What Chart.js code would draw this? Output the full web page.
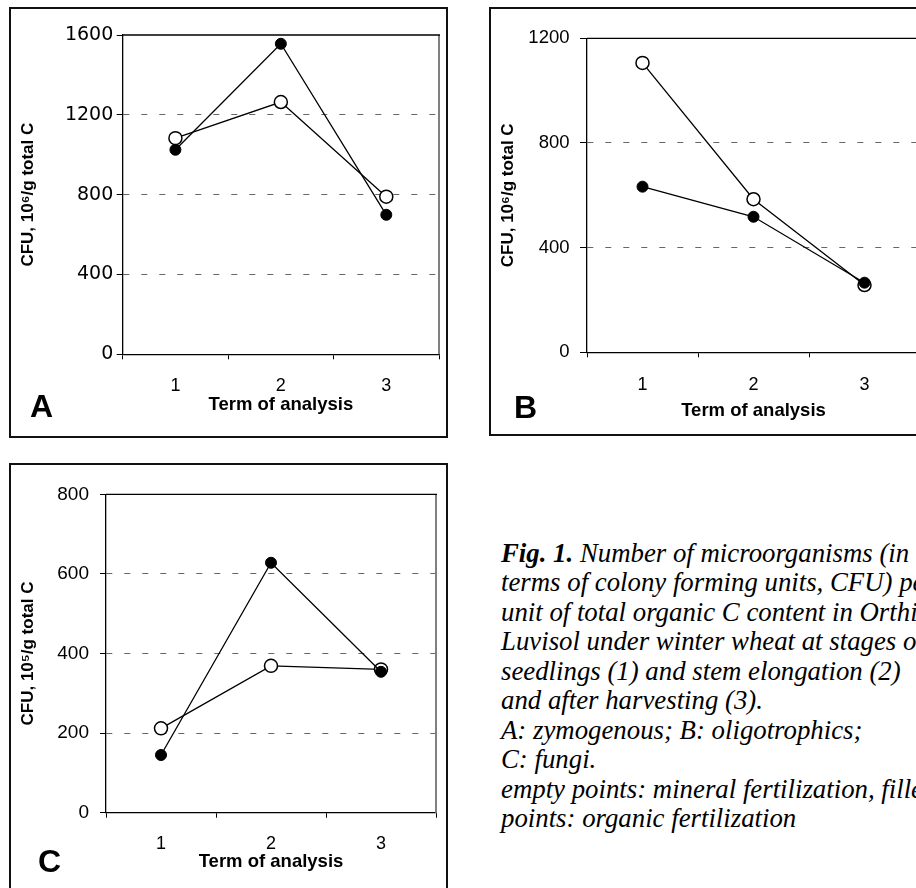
<!DOCTYPE html>
<html><head><meta charset="utf-8">
<script src="https://cdn.jsdelivr.net/npm/chart.js@4.4.1/dist/chart.umd.min.js"></script>
<style>
html,body{margin:0;padding:0;background:#fff;}
body{width:916px;height:888px;overflow:hidden;position:relative;}
.box{position:absolute;border:2px solid #111;box-sizing:border-box;}
.cv{position:absolute;}
.letter{position:absolute;font-family:"Liberation Sans",Arial,sans-serif;font-weight:bold;font-size:32px;line-height:32px;color:#000;}
.caption{position:absolute;left:501px;top:538.5px;font-family:"Liberation Serif","Times New Roman",serif;font-style:italic;font-size:26.8px;line-height:29.5px;white-space:nowrap;color:#000;}
</style></head><body>
<div class="box" style="left:9px;top:7px;width:439px;height:431px"></div>
<div class="box" style="left:489px;top:7px;width:460px;height:429px"></div>
<div class="box" style="left:9px;top:463px;width:439px;height:440px"></div>
<canvas id="cA" class="cv" style="left:10px;top:8px;width:437px;height:429px" width="437" height="429"></canvas>
<canvas id="cB" class="cv" style="left:490px;top:8px;width:440px;height:427px" width="440" height="427"></canvas>
<canvas id="cC" class="cv" style="left:10px;top:464px;width:437px;height:430px" width="437" height="430"></canvas>
<div class="letter" style="left:30px;top:390px">A</div>
<div class="letter" style="left:514px;top:391px">B</div>
<div class="letter" style="left:38px;top:845px">C</div>
<div class="caption"><b>Fig. 1.</b> Number of microorganisms (in<br>terms of colony forming units, CFU) per<br>unit of total organic C content in Orthic<br>Luvisol under winter wheat at stages of<br>seedlings (1) and stem elongation (2)<br>and after harvesting (3).<br>A: zymogenous; B: oligotrophics;<br>C: fungi.<br>empty points: mineral fertilization, filled<br>points: organic fertilization</div>
<script>
// ---- data ----
const termLabels = ['1', '2', '3'];
const mineralA = [1083, 1264, 790];
const organicA = [1025, 1556, 699];
const mineralB = [1106, 585, 257];
const organicB = [633, 518, 266];
const mineralC = [212, 369, 360];
const organicC = [145, 628, 354];
const yTicksA = [0, 400, 800, 1200, 1600];
const yTicksB = [0, 400, 800, 1200];
const yTicksC = [0, 200, 400, 600, 800];
const yTitleA = 'CFU, 10\u2076/g total C';
const yTitleB = 'CFU, 10\u2076/g total C';
const yTitleC = 'CFU, 10\u2075/g total C';
const xTitle = 'Term of analysis';

const SANS = '"Liberation Sans", Arial, sans-serif';

const framePlugin = {
  id: 'frame',
  beforeDatasetsDraw(chart) {
    const {ctx, chartArea: {left, right, top, bottom}} = chart;
    ctx.save();
    ctx.strokeStyle = '#808080'; ctx.lineWidth = 2;
    ctx.beginPath(); ctx.moveTo(right, top); ctx.lineTo(right, bottom); ctx.stroke();
    ctx.strokeStyle = '#000'; ctx.lineWidth = 1.3;
    ctx.beginPath(); ctx.moveTo(left, top); ctx.lineTo(right + 1, top); ctx.stroke();
    ctx.restore();
  }
};

function makePanel(id, mineral, organic, yTicks, yTitle, lay) {
  const yMin = yTicks[0], yMax = yTicks[yTicks.length - 1];
  new Chart(document.getElementById(id), {
    type: 'line',
    data: {
      labels: termLabels,
      datasets: [
        {label: 'organic fertilization', data: organic, borderColor: '#000', borderWidth: 1.3,
         pointRadius: 5.5, pointBackgroundColor: '#000', pointBorderColor: '#000', pointBorderWidth: 1, tension: 0},
        {label: 'mineral fertilization', data: mineral, borderColor: '#000', borderWidth: 1.3,
         pointRadius: 6.5, pointBackgroundColor: '#fff', pointBorderColor: '#000', pointBorderWidth: 1.5, tension: 0}
      ]
    },
    options: {
      responsive: false,
      animation: false,
      layout: {padding: {top: lay.top, right: lay.right, left: 0, bottom: 0}},
      plugins: {legend: {display: false}, tooltip: {enabled: false}},
      scales: {
        x: {
          type: 'category', offset: true,
          grid: {display: true, drawOnChartArea: false, drawTicks: true, tickLength: 5, offset: true, color: '#000', tickColor: '#000'},
          border: {display: true, color: '#000', width: 1.3},
          ticks: {color: '#000', font: {family: SANS, size: 18}, padding: lay.xPad, maxRotation: 0},
          title: {display: true, text: xTitle, color: '#000', font: {family: SANS, size: 18.5, weight: 'bold'}, padding: {top: 0, bottom: lay.xTitlePad}},
          afterFit(s) { s.height = lay.xH; }
        },
        y: {
          min: yMin, max: yMax,
          ticks: {stepSize: yTicks[1] - yTicks[0], color: '#000', font: {family: lay.yFont, size: lay.yFontSize}, padding: lay.yPad,
                  callback: (v) => String(v)},
          grid: {
            color: (c) => (c.tick && (c.tick.value === yMin || c.tick.value === yMax)) ? 'rgba(0,0,0,0)' : '#666',
            lineWidth: 1, tickColor: '#000', tickLength: lay.yTick, tickBorderDash: [], drawTicks: true
          },
          border: {display: true, color: '#000', width: 1.3, dash: [6, 12]},
          title: {display: true, text: yTitle, color: '#000', font: {family: SANS, size: 17, weight: 'bold'}, padding: {top: 7.8, bottom: 0}},
          afterFit(s) { s.width = lay.yW; }
        }
      }
    },
    plugins: [framePlugin]
  });
}

makePanel('cA', mineralA, organicA, yTicksA, yTitleA,
  {top: 27, right: 8, xH: 82.7, yW: 112.7, xPad: 15.5, xTitlePad: 20.7, yPad: 3.4, yTick: 6, yFont: '"DejaVu Sans", sans-serif', yFontSize: 19});
makePanel('cB', mineralB, organicB, yTicksB, yTitleB,
  {top: 30.3, right: 10, xH: 82.7, yW: 97, xPad: 16.5, xTitlePad: 12.7, yPad: 10.5, yTick: 7, yFont: SANS, yFontSize: 18.5});
makePanel('cC', mineralC, organicC, yTicksC, yTitleC,
  {top: 30.3, right: 11, xH: 81.3, yW: 96, xPad: 16, xTitlePad: 20.7, yPad: 11, yTick: 6, yFont: SANS, yFontSize: 19});
</script>
</body></html>
